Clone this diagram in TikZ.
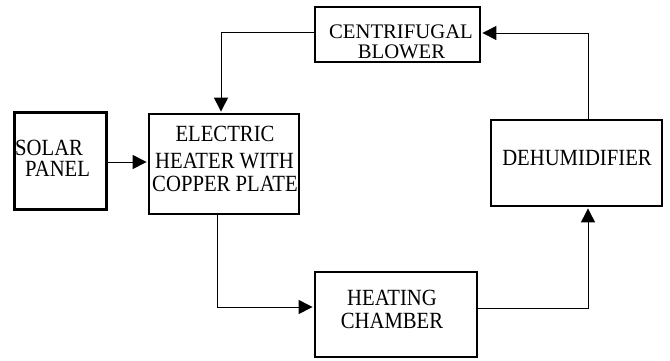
\documentclass[tikz,border=0pt]{standalone}
\usepackage{fontspec}
\usepackage{graphicx}
\setmainfont{Liberation Serif}
\usetikzlibrary{arrows.meta}
\newcommand{\tallT}[1]{\scalebox{1}[1.12]{#1}}
\begin{document}
\begin{tikzpicture}[x=1pt,y=-1pt,
  box/.style={draw=black,line width=2.8pt,rectangle,inner sep=0pt},
  lbl/.style={inner sep=0pt,anchor=base,font=\fontsize{20.7}{24}\selectfont},
  lblw/.style={lbl,anchor=base west},
  arr/.style={draw=black,line width=1pt,-{Triangle[length=14pt,width=14pt]},shorten >=1pt}]
\useasboundingbox (0,0) rectangle (670,360);
% boxes
\node[box,minimum width=92pt,minimum height=97pt] (solar) at (60.5,161) {};
\node[box,minimum width=150pt,minimum height=100pt] (heater) at (224,164) {};
\node[box,minimum width=165pt,minimum height=55pt] (blower) at (397.5,34.5) {};
\node[box,minimum width=162pt,minimum height=85pt] (heating) at (396,314.5) {};
\node[box,minimum width=171pt,minimum height=86pt] (dehum) at (576.5,163) {};
% texts
\node[lblw] (solarT1) at (15,155) {\tallT{SOLAR}};
\node[lblw] (solarT2) at (25,176.5) {\tallT{PANEL}};
\node[lbl] (heaterT1) at (225,141) {\tallT{ELECTRIC}};
\node[lbl] (heaterT2) at (224.5,168) {\tallT{HEATER WITH}};
\node[lbl] (heaterT3) at (225,191) {\tallT{COPPER PLATE}};
\node[lbl] (blowerT1) at (401,38.5) {CENTRIFUGAL};
\node[lbl] (blowerT2) at (401.5,58.5) {BLOWER};
\node[lbl] (heatingT1) at (392,305) {\tallT{HEATING}};
\node[lbl] (heatingT2) at (392,328) {\tallT{CHAMBER}};
\node[lbl] (dehumT) at (577,165.5) {\tallT{DEHUMIDIFIER}};
% connectors
\coordinate (c1) at (588,33);
\coordinate (c2) at (221,32);
\coordinate (c3) at (217,307);
\coordinate (c4) at (588,308);
\draw[arr] (solar.east |- 0,162) -- (heater.west |- 0,162);
\draw[arr] (dehum.north -| c1) -- (c1) -- (c1 -| blower.east);
\draw[arr] (c2 -| blower.west) -- (c2) -- (c2 |- heater.north);
\draw[arr] (c3 |- heater.south) -- (c3) -- (c3 -| heating.west);
\draw[arr] (c4 -| heating.east) -- (c4) -- (c4 |- dehum.south);
\end{tikzpicture}
\end{document}
